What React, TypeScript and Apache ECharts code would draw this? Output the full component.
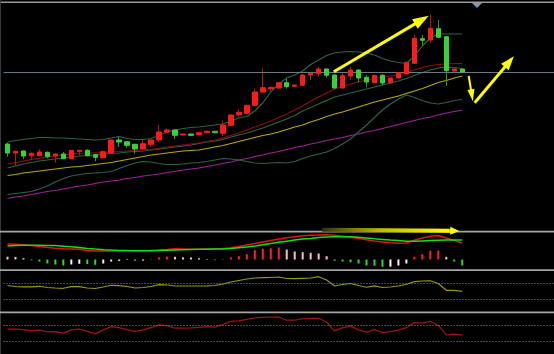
import { useEffect, useRef } from 'react';
import * as echarts from 'echarts';

// 58 trading sessions plus empty slots on the right, as in the trading terminal
const SLOTS = 69;
const CATEGORIES = Array.from({ length: SLOTS }, (_, i) => `D${i + 1}`);

const OPEN = [10.60, 9.70, 9.90, 9.43, 9.43, 9.77, 9.40, 9.60, 9.13, 9.87,
  9.97, 9.53, 9.23, 9.73, 11.00, 10.83, 10.57, 10.10, 10.57, 11.00,
  11.80, 12.00, 11.50, 11.60, 11.53, 11.73, 11.87, 11.67, 12.47, 13.53,
  13.67, 14.47, 15.80, 16.13, 16.20, 16.73, 16.37, 16.47, 17.50, 17.63,
  18.10, 17.50, 16.20, 17.40, 18.00, 17.27, 16.73, 17.47, 16.73, 17.20,
  17.60, 18.67, 21.13, 21.00, 22.13, 21.33, 17.90, 18.10];
const CLOSE = [9.70, 9.87, 9.40, 9.67, 9.80, 9.33, 9.60, 9.13, 9.97, 9.97,
  9.43, 9.27, 9.83, 11.00, 10.80, 10.47, 10.10, 10.63, 11.00, 11.80,
  12.00, 11.47, 11.60, 11.47, 11.73, 11.87, 11.73, 12.50, 13.50, 13.77,
  14.47, 15.80, 16.23, 16.27, 16.73, 16.33, 16.50, 17.50, 17.67, 18.10,
  17.47, 16.20, 17.43, 18.00, 17.20, 16.80, 17.47, 16.70, 17.20, 17.73,
  18.77, 21.17, 20.97, 22.17, 21.27, 17.93, 18.10, 17.80];
const LOW = [9.33, 8.40, 9.07, 9.00, 9.33, 9.17, 8.73, 9.07, 9.08, 9.50,
  9.33, 8.87, 9.18, 9.70, 10.27, 10.23, 9.63, 10.05, 10.33, 10.83,
  11.70, 11.10, 11.45, 11.40, 11.48, 11.68, 11.68, 11.40, 12.40, 13.33,
  13.62, 14.40, 15.75, 15.93, 16.15, 16.13, 16.32, 16.42, 17.00, 17.33,
  17.27, 16.15, 16.15, 17.00, 16.80, 16.27, 16.68, 16.47, 16.68, 17.15,
  17.55, 18.62, 20.50, 20.73, 21.22, 16.40, 17.85, 17.72];
const HIGH = [10.73, 9.90, 9.95, 9.77, 10.07, 9.85, 9.65, 9.80, 10.00, 10.02,
  10.07, 9.60, 9.93, 11.05, 11.33, 10.90, 10.62, 11.00, 11.05, 12.50,
  12.15, 12.05, 11.65, 11.65, 11.78, 11.95, 11.90, 12.93, 13.55, 14.07,
  14.52, 16.17, 18.17, 16.33, 16.78, 17.13, 16.55, 17.55, 17.72, 18.33,
  18.15, 17.55, 17.80, 18.33, 18.05, 17.50, 17.52, 17.60, 17.25, 17.78,
  18.82, 21.50, 21.50, 23.57, 23.00, 21.38, 18.15, 18.15];

const MA_SHORT = [8.60, 8.75, 8.90, 9.05, 9.17, 9.30, 9.40, 9.50, 9.60, 9.65,
  9.70, 9.72, 9.75, 9.80, 9.85, 9.90, 9.95, 10.00, 10.05, 10.17,
  10.30, 10.40, 10.50, 10.60, 10.70, 10.85, 11.00, 11.20, 11.45, 11.70,
  12.00, 12.30, 12.60, 12.90, 13.25, 13.60, 14.00, 14.40, 14.90, 15.30,
  15.70, 16.10, 16.35, 16.60, 16.80, 17.00, 17.15, 17.30, 17.40, 17.50,
  17.75, 18.00, 18.25, 18.45, 18.55, 18.60, 18.65, 18.65];
const BOLL_MID = [8.20, 8.40, 8.60, 8.75, 8.90, 9.00, 9.10, 9.20, 9.30, 9.40,
  9.45, 9.50, 9.60, 9.65, 9.70, 9.80, 9.85, 9.90, 10.00, 10.10,
  10.20, 10.30, 10.40, 10.50, 10.65, 10.80, 10.90, 11.05, 11.30, 11.50,
  11.70, 11.95, 12.20, 12.50, 12.80, 13.10, 13.45, 13.90, 14.25, 14.60,
  14.95, 15.30, 15.50, 15.70, 15.90, 16.10, 16.30, 16.50, 16.70, 16.90,
  17.15, 17.45, 17.75, 18.00, 18.20, 18.30, 18.25, 18.15];
const BOLL_UP = [10.80, 10.95, 11.05, 11.15, 11.25, 11.25, 11.20, 11.20, 11.15, 11.10,
  11.05, 11.00, 11.05, 11.20, 11.35, 11.15, 11.05, 11.05, 11.15, 11.45,
  11.80, 12.00, 12.15, 12.25, 12.30, 12.40, 12.50, 12.60, 12.90, 13.20,
  13.35, 13.90, 14.70, 15.80, 16.60, 17.20, 17.50, 17.90, 18.55, 19.00,
  19.45, 19.70, 19.80, 19.85, 19.80, 19.70, 19.50, 19.15, 18.90, 18.75,
  18.65, 19.40, 20.40, 21.20, 21.60, 21.60, 21.60, 21.60];
const BOLL_LOW = [5.55, 5.65, 5.75, 5.85, 6.10, 6.40, 6.80, 7.15, 7.40, 7.55,
  7.65, 7.70, 7.75, 7.85, 8.15, 8.45, 8.70, 8.85, 8.80, 8.65,
  8.55, 8.55, 8.60, 8.70, 8.75, 8.85, 9.00, 9.15, 9.10, 9.00,
  8.85, 8.70, 8.65, 8.70, 8.75, 8.70, 8.85, 9.15, 9.40, 9.60,
  9.80, 10.15, 10.60, 11.10, 11.80, 12.50, 13.25, 14.00, 14.60, 15.10,
  15.50, 15.25, 14.95, 14.70, 14.60, 14.75, 14.95, 15.05];
const MA_MID = [7.45, 7.55, 7.70, 7.80, 7.90, 8.00, 8.10, 8.20, 8.30, 8.35,
  8.45, 8.55, 8.65, 8.75, 8.90, 9.05, 9.20, 9.35, 9.50, 9.60,
  9.70, 9.80, 9.90, 9.95, 10.00, 10.15, 10.30, 10.45, 10.65, 10.85,
  11.05, 11.25, 11.45, 11.60, 11.80, 12.05, 12.30, 12.50, 12.80, 13.05,
  13.35, 13.60, 13.80, 14.05, 14.30, 14.55, 14.80, 15.00, 15.20, 15.40,
  15.65, 15.90, 16.15, 16.45, 16.75, 16.95, 17.20, 17.40];
const MA_LONG = [5.15, 5.30, 5.40, 5.55, 5.70, 5.85, 5.95, 6.10, 6.25, 6.40,
  6.50, 6.65, 6.80, 6.90, 7.00, 7.15, 7.25, 7.40, 7.50, 7.60,
  7.75, 7.85, 8.00, 8.10, 8.20, 8.35, 8.50, 8.65, 8.80, 9.00,
  9.15, 9.35, 9.50, 9.70, 9.85, 10.05, 10.25, 10.40, 10.60, 10.75,
  10.95, 11.10, 11.25, 11.45, 11.60, 11.80, 11.95, 12.15, 12.35, 12.55,
  12.75, 12.95, 13.15, 13.30, 13.50, 13.70, 13.85, 14.00];

const MACD_HIST = [0.027, 0.026, 0.013, -0.008, -0.020, -0.040, -0.050, -0.060, -0.050, -0.043,
  -0.046, -0.053, -0.040, -0.020, -0.013, -0.004, -0.013, -0.011, 0.004, 0.020,
  0.028, 0.027, 0.021, 0.020, 0.013, 0.005, -0.006, 0.004, 0.020, 0.033,
  0.053, 0.093, 0.107, 0.113, 0.120, 0.100, 0.080, 0.073, 0.067, 0.060,
  0.033, -0.013, -0.020, -0.027, -0.040, -0.060, -0.062, -0.073, -0.072, -0.060,
  -0.040, 0.027, 0.053, 0.087, 0.088, 0.027, -0.020, -0.060];
const MACD_DIF = [0.155, 0.153, 0.147, 0.140, 0.129, 0.120, 0.113, 0.108, 0.105, 0.102,
  0.090, 0.085, 0.085, 0.085, 0.087, 0.088, 0.088, 0.088, 0.089, 0.095,
  0.100, 0.107, 0.105, 0.102, 0.102, 0.105, 0.107, 0.110, 0.117, 0.130,
  0.145, 0.159, 0.175, 0.190, 0.205, 0.218, 0.228, 0.237, 0.243, 0.246,
  0.247, 0.242, 0.232, 0.220, 0.211, 0.198, 0.185, 0.175, 0.167, 0.162,
  0.165, 0.193, 0.215, 0.233, 0.240, 0.215, 0.190, 0.165];
const MACD_DEA = [0.135, 0.140, 0.142, 0.142, 0.142, 0.141, 0.139, 0.133, 0.127, 0.119,
  0.111, 0.104, 0.098, 0.094, 0.091, 0.089, 0.088, 0.088, 0.088, 0.090,
  0.093, 0.096, 0.098, 0.100, 0.102, 0.103, 0.104, 0.105, 0.109, 0.118,
  0.126, 0.136, 0.147, 0.159, 0.172, 0.183, 0.194, 0.204, 0.210, 0.219,
  0.226, 0.228, 0.228, 0.227, 0.222, 0.216, 0.208, 0.201, 0.194, 0.189,
  0.183, 0.183, 0.186, 0.189, 0.192, 0.195, 0.195, 0.195];

const OSC_A = [63.8, 61.3, 60.5, 60.5, 61.8, 58.8, 57.5, 56.8, 60.8, 60.8,
  57.5, 56.3, 60.0, 64.3, 63.3, 61.3, 57.5, 58.8, 61.3, 65.8,
  65.0, 62.5, 62.5, 62.5, 62.5, 63.0, 63.8, 67.5, 72.5, 76.3,
  80.0, 82.5, 83.3, 83.8, 85.0, 81.3, 80.8, 81.8, 82.5, 85.8,
  77.5, 62.5, 66.3, 68.8, 63.8, 59.3, 63.0, 58.8, 60.0, 62.5,
  66.8, 73.3, 75.0, 75.5, 68.8, 51.8, 51.8, 49.3];
const OSC_B = [59.8, 59.8, 58.6, 56.2, 57.4, 53.3, 54.0, 50.2, 58.1, 59.8,
  54.5, 48.5, 58.1, 66.0, 63.4, 58.1, 54.5, 58.1, 63.4, 70.1,
  68.4, 62.2, 62.2, 62.9, 64.1, 66.0, 64.6, 71.3, 78.5, 79.7,
  83.3, 86.9, 88.1, 88.8, 89.3, 81.4, 81.4, 85.2, 85.7, 86.2,
  76.6, 55.7, 62.9, 67.7, 58.1, 52.6, 58.8, 51.6, 54.0, 57.4,
  63.6, 75.6, 74.2, 79.0, 68.9, 46.1, 47.8, 45.4];
const OSC_LEVELS = [70, 30];

// hand-drawn arrow annotations, anchored in [session index, value] space
const ARROWS_PRICE = [
  [[40.9, 17.83], [51.93, 23.01]],
  [[57.81, 17.4], [58.21, 15.47]],
  [[58.56, 14.73], [62.91, 18.83]],
];
const ARROW_MACD = [[39.44, 0.298], [56.06, 0.286]];

export default function App() {
  const ref = useRef<HTMLDivElement>(null);

  useEffect(() => {
    const chart = echarts.init(ref.current!, null, { renderer: 'svg' });
    const N = OPEN.length;
    const full = OPEN.map((o, i) => [o, CLOSE[i], LOW[i], HIGH[i]]);
    const bodies = OPEN.map((o, i) => [o, CLOSE[i], Math.min(o, CLOSE[i]), Math.max(o, CLOSE[i])]);
    const lastClose = CLOSE[N - 1];

    const histColor = (i: number) => {
      const v = MACD_HIST[i];
      const prev = i > 0 ? MACD_HIST[i - 1] : v + 0.01;
      if (v >= 0) return v >= prev ? '#ff2222' : '#f2c6ca';
      return v <= prev ? '#2fd82f' : '#f4f4f4';
    };

    const line = (data: number[], color: string, gi: number, width = 1.2, extra: any = {}) => ({
      type: 'line', data, xAxisIndex: gi, yAxisIndex: gi, showSymbol: false, symbol: 'none',
      lineStyle: { color, width }, silent: true, z: 3, ...extra,
    });

    const levels = {
      silent: true, symbol: 'none', label: { show: false },
      lineStyle: { color: '#8e8e8e', width: 1, type: [1, 2] },
      data: OSC_LEVELS.map((v) => ({ yAxis: v })),
    };

    const arrow = (xi: number, yi: number, pts: number[][], width: number, head: number[]) => ({
      type: 'scatter', xAxisIndex: xi, yAxisIndex: yi, symbolSize: 0, silent: true, z: 10,
      data: pts,
      markLine: {
        silent: true, symbol: ['none', 'triangle'], symbolSize: head, label: { show: false },
        lineStyle: { color: '#ffff00', width, type: 'solid', opacity: 1 },
        emphasis: { disabled: true },
        data: [[{ coord: pts[0] }, { coord: pts[1] }]],
      },
    });

    const [mt, mh] = ARROW_MACD;
    const headFrac = 0.96;
    const macdHeadStart = [mt[0] + (mh[0] - mt[0]) * headFrac, mt[1] + (mh[1] - mt[1]) * headFrac];
    const macdGradient = new echarts.graphic.LinearGradient(0, 0, 1, 0, [
      { offset: 0, color: '#343200' },
      { offset: 0.45, color: '#bdb900' },
      { offset: 1, color: '#ffff00' },
    ]);

    const grids = [
      { left: 3.5, width: 552, top: 4, height: 226 },
      { left: 3.5, width: 552, top: 228, height: 40 },
      { left: 3.5, width: 552, top: 271, height: 40 },
      { left: 3.5, width: 552, top: 312.5, height: 41.7 },
    ];

    const option: any = {
      animation: false,
      backgroundColor: '#000000',
      grid: grids,
      xAxis: [
        ...grids.map((_, gi) => ({
          type: 'category', gridIndex: gi, data: CATEGORIES, boundaryGap: true, show: false,
        })),
        { type: 'value', gridIndex: 0, min: -0.5, max: SLOTS - 0.5, show: false },
        { type: 'value', gridIndex: 1, min: -0.5, max: SLOTS - 0.5, show: false },
      ],
      yAxis: [
        { type: 'value', gridIndex: 0, min: 2, max: 24.6, show: false, splitLine: { show: false } },
        { type: 'value', gridIndex: 1, min: -0.085, max: 0.315, show: false, splitLine: { show: false } },
        { type: 'value', gridIndex: 2, min: 0, max: 100, show: false, splitLine: { show: false } },
        { type: 'value', gridIndex: 3, min: 0, max: 100, show: false, splitLine: { show: false } },
      ],
      graphic: [
        { type: 'rect', z: 0, shape: { x: 0, y: 1.5, width: 554, height: 1.5 }, style: { fill: '#9c9c9c' } },
        { type: 'polygon', z: 0, shape: { points: [[472, 3], [482, 3], [477, 8]] }, style: { fill: '#8497a8' } },
        { type: 'rect', z: 0, shape: { x: 0, y: 0, width: 1, height: 354 }, style: { fill: '#3a3a3a' } },
        { type: 'rect', z: 0, shape: { x: 0, y: 230.8, width: 554, height: 1.8 }, style: { fill: '#a6a6a6' } },
        { type: 'rect', z: 0, shape: { x: 0, y: 269.2, width: 554, height: 1.8 }, style: { fill: '#a6a6a6' } },
        { type: 'rect', z: 0, shape: { x: 0, y: 311.5, width: 554, height: 1.8 }, style: { fill: '#a6a6a6' } },
      ],
      series: [
        line(MA_LONG, '#a0209c', 0),
        line(BOLL_LOW, '#2c6446', 0),
        line(BOLL_UP, '#2c6446', 0),
        line(BOLL_MID, '#2c6446', 0),
        line(MA_MID, '#b8aa00', 0),
        line(MA_SHORT, '#8e0c0c', 0),
        {
          type: 'candlestick', data: full, xAxisIndex: 0, yAxisIndex: 0, barWidth: 1, silent: true, z: 4,
          itemStyle: { color: '#b01616', color0: '#2c9c2c', borderColor: '#b01616', borderColor0: '#2c9c2c', borderWidth: 1 },
        },
        {
          type: 'candlestick', data: bodies, xAxisIndex: 0, yAxisIndex: 0, barWidth: 5, silent: true, z: 5,
          itemStyle: { color: '#ff1a1a', color0: '#36d236', borderColor: '#ff1a1a', borderColor0: '#36d236', borderWidth: 1 },
          markLine: {
            silent: true, symbol: 'none', label: { show: false },
            lineStyle: { color: '#6c7a88', width: 1, type: 'solid' },
            data: [{ yAxis: lastClose }],
          },
        },
        {
          type: 'bar', data: MACD_HIST, xAxisIndex: 1, yAxisIndex: 1, barWidth: 2, silent: true, z: 2,
          itemStyle: { color: (p: any) => histColor(p.dataIndex) },
        },
        line(MACD_DIF, '#e41414', 1, 1.5),
        line(MACD_DEA, '#14e014', 1, 1.5),
        line(OSC_A, '#9a9612', 2, 1.2, { markLine: levels }),
        line(OSC_B, '#9c1414', 3, 1.2, { markLine: levels }),
        ...ARROWS_PRICE.map((pts, k) =>
          arrow(4, 0, pts, k === 1 ? 2 : 3, k === 0 ? [11, 16] : k === 1 ? [7, 12] : [10, 14])),
        {
          type: 'scatter', xAxisIndex: 5, yAxisIndex: 1, symbolSize: 0, silent: true, z: 10,
          data: ARROW_MACD,
          markLine: {
            silent: true, symbol: ['none', 'triangle'], symbolSize: [8, 9], label: { show: false },
            lineStyle: { color: '#ffff00', width: 4, type: 'solid', opacity: 1 },
            emphasis: { disabled: true },
            data: [
              [{ coord: mt, lineStyle: { color: macdGradient, width: 4 } }, { coord: macdHeadStart, symbol: 'none' }],
              [{ coord: macdHeadStart, lineStyle: { color: '#ffff00', width: 4 } }, { coord: mh }],
            ],
          },
        },
      ],
    };

    chart.setOption(option);
    return () => chart.dispose();
  }, []);

  return (
    <div
      ref={ref}
      style={{ position: 'fixed', left: 0, top: 0, width: 554, height: 354, background: '#000' }}
    />
  );
}
